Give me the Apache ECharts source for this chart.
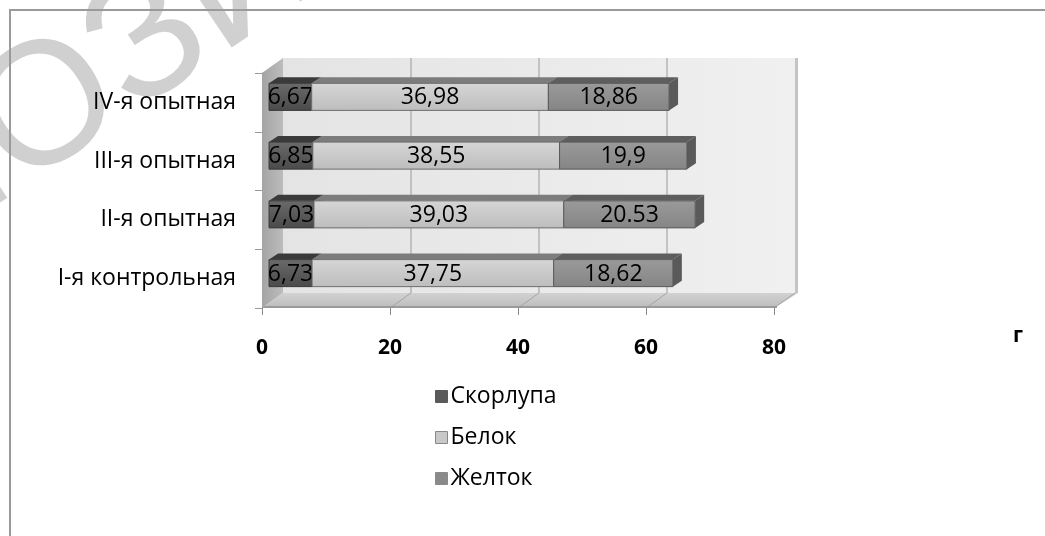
<!DOCTYPE html>
<html>
<head>
<meta charset="utf-8">
<script src="https://cdn.jsdelivr.net/npm/echarts@6/dist/echarts.min.js"></script>
<style>
html,body{margin:0;padding:0;background:#fff;}
#chart{width:1045px;height:536px;}
</style>
</head>
<body>
<div id="chart"></div>
<script>
// ---- data ----
const categories = ['I-я контрольная', 'II-я опытная', 'III-я опытная', 'IV-я опытная'];
const seriesNames = ['Скорлупа', 'Белок', 'Желток'];
const shell = [6.73, 7.03, 6.85, 6.67];
const white = [37.75, 39.03, 38.55, 36.98];
const yolk = [18.62, 20.53, 19.9, 18.86];
const shellLabels = ['6,73', '7,03', '6,85', '6,67'];
const whiteLabels = ['37,75', '39,03', '38,55', '36,98'];
const yolkLabels = ['18,62', '20.53', '19,9', '18,86'];
const xMin = 0, xMax = 80, xStep = 20;
const unitLabel = 'г';

// ---- styling ----
const FONT = '"Open Sans", "DejaVu Sans", sans-serif';
const DEPTH = [21, -15];      // full depth of the 3D box
const BAR_FRONT = [7, -5.5];  // bar front plane offset
const BAR_BACK = [16, -11.5]; // bar back plane offset
const BAR_H = 0.46;           // bar height as fraction of band
const styles = [
  {front: ['#6a6a6a', '#4a4a4a'], top: '#3a3a3a', side: '#404040', edge: '#3a3a3a'},
  {front: ['#d6d6d6', '#bdbdbd'], top: '#7c7c7c', side: '#8a8a8a', edge: '#6e6e6e'},
  {front: ['#9a9a9a', '#858585'], top: '#5e5e5e', side: '#5a5a5a', edge: '#5a5a5a'}
];
const legendColors = ['#5a5a5a', '#c8c8c8', '#8a8a8a'];

const valueSets = [shell, white, yolk];
const labelSets = [shellLabels, whiteLabels, yolkLabels];

// build [catIndex, start, end] tuples for stacking
function stackData(s) {
  return categories.map((c, i) => {
    let start = 0;
    for (let k = 0; k < s; k++) start += valueSets[k][i];
    return [i, start, start + valueSets[s][i]];
  });
}

function grad(c0, c1) {
  return new echarts.graphic.LinearGradient(0, 0, 0, 1, [{offset: 0, color: c0}, {offset: 1, color: c1}]);
}

function renderBar(s) {
  return function (params, api) {
    const cat = api.value(0), st = api.value(1), en = api.value(2);
    const p0 = api.coord([st, cat]);
    const p1 = api.coord([en, cat]);
    const band = api.size([0, 1])[1];
    const h = band * BAR_H;
    const yT = p0[1] - h / 2, yB = p0[1] + h / 2;
    const xa = p0[0], xb = p1[0];
    const f = BAR_FRONT, b = BAR_BACK;
    const sty = styles[s];
    const children = [];
    children.push({type: 'polygon', shape: {points: [
      [xa + f[0], yT + f[1]], [xb + f[0], yT + f[1]], [xb + b[0], yT + b[1]], [xa + b[0], yT + b[1]]
    ]}, style: {fill: sty.top}});
    children.push({type: 'polygon', shape: {points: [
      [xb + f[0], yT + f[1]], [xb + b[0], yT + b[1]], [xb + b[0], yB + b[1]], [xb + f[0], yB + f[1]]
    ]}, style: {fill: sty.side}});
    children.push({type: 'rect', shape: {x: xa + f[0], y: yT + f[1], width: xb - xa, height: h},
      style: {fill: grad(sty.front[0], sty.front[1]), stroke: sty.edge, lineWidth: 1}});
    children.push({type: 'text', x: (xa + xb) / 2 + f[0], y: p0[1] + f[1] + 1,
      style: {text: labelSets[s][cat], fill: '#000', font: '23px ' + FONT, align: 'center', verticalAlign: 'middle'}});
    return {type: 'group', children: children};
  };
}

function renderWalls(params, api) {
  const band = api.size([0, 1])[1];
  const x0 = api.coord([xMin, 0])[0];
  const x1 = api.coord([xMax, 0])[0];
  const yb = api.coord([xMin, 0])[1] + band / 2;
  const yt = api.coord([xMin, categories.length - 1])[1] - band / 2;
  const dx = DEPTH[0], dy = DEPTH[1];
  const ch = [];
  ch.push({type: 'rect', shape: {x: x0 + dx, y: yt + dy, width: x1 - x0, height: yb - yt},
    style: {fill: new echarts.graphic.LinearGradient(0, 0, 1, 0, [{offset: 0, color: '#e4e4e4'}, {offset: 1, color: '#f0f0f0'}])}});
  ch.push({type: 'rect', shape: {x: x1 + dx, y: yt + dy, width: 3, height: yb - yt},
    style: {fill: '#c4c4c4'}});
  for (let v = xMin + xStep; v < xMax; v += xStep) {
    const x = api.coord([v, 0])[0];
    ch.push({type: 'line', shape: {x1: x + dx, y1: yt + dy, x2: x + dx, y2: yb + dy},
      style: {stroke: '#9a9a9a', lineWidth: 1}});
  }
  ch.push({type: 'polygon', shape: {points: [[x0, yb], [x1, yb], [x1 + dx + 3, yb + dy], [x0 + dx, yb + dy]]},
    style: {fill: grad('#d2d2d2', '#bcbcbc')}});
  for (let v = xMin + xStep; v <= xMax; v += xStep) {
    const x = api.coord([v, 0])[0];
    ch.push({type: 'line', shape: {x1: x, y1: yb, x2: x + dx, y2: yb + dy},
      style: {stroke: '#a6a6a6', lineWidth: 1}});
  }
  ch.push({type: 'line', shape: {x1: x0, y1: yb - 1, x2: x1 + 3, y2: yb - 1},
    style: {stroke: '#9a9a9a', lineWidth: 2}});
  ch.push({type: 'polygon', shape: {points: [[x0, yt], [x0 + dx, yt + dy], [x0 + dx, yb + dy], [x0, yb]]},
    style: {fill: new echarts.graphic.LinearGradient(0, 0, 1, 0, [{offset: 0, color: '#a4a4a4'}, {offset: 1, color: '#bcbcbc'}])}});
  return {type: 'group', children: ch};
}

const chart = echarts.init(document.getElementById('chart'));

const series = [{
  type: 'custom', name: '_walls', renderItem: renderWalls, data: [[0, 0, 0]],
  silent: true, z: 1, encode: {x: [1, 2], y: 0}
}];
seriesNames.forEach((n, s) => {
  series.push({
    type: 'custom', name: n, renderItem: renderBar(s), data: stackData(s),
    encode: {x: [1, 2], y: 0}, z: 2 + s,
    itemStyle: {color: legendColors[s]}
  });
});

chart.setOption({
  animation: false,
  backgroundColor: '#ffffff',
  graphic: [
    {type: 'rect', shape: {x: 10, y: 10, width: 1100, height: 600}, style: {fill: null, stroke: '#9a9a9a', lineWidth: 2}, z: -10},
    {type: 'text', x: -8, y: 150, rotation: 0.59, z: -20, silent: true,
      style: {text: 'РЕП', font: '175px "Liberation Sans", sans-serif', fill: '#d0d0d0', align: 'right', verticalAlign: 'middle'}},
    {type: 'text', x: -8, y: 150, rotation: 0.59, z: -20, silent: true,
      style: {text: 'ОЗИТОРИЙ', font: '175px "Liberation Sans", sans-serif', fill: '#d0d0d0', align: 'left', verticalAlign: 'middle'}}
  ],
  grid: {left: 262, right: 271, top: 73, bottom: 228, containLabel: false},
  xAxis: {
    type: 'value', min: xMin, max: xMax, interval: xStep,
    name: unitLabel, nameLocation: 'end', nameGap: 239,
    nameTextStyle: {color: '#000', fontSize: 21, fontWeight: 'bold', fontFamily: FONT, verticalAlign: 'top', padding: [18, 0, 0, 0]},
    axisLine: {show: false},
    axisTick: {show: true, length: 7, lineStyle: {color: '#8a8a8a'}},
    splitLine: {show: false},
    axisLabel: {color: '#000', fontSize: 21, fontWeight: 'bold', fontFamily: FONT, margin: 30}
  },
  yAxis: {
    type: 'category', data: categories,
    axisLine: {show: true, lineStyle: {color: '#b0b0b0'}},
    axisTick: {show: true, length: 7, lineStyle: {color: '#9a9a9a'}},
    axisLabel: {color: '#000', fontSize: 23, fontFamily: FONT, margin: 26},
    splitLine: {show: false}
  },
  legend: {
    data: seriesNames.map((n, s) => ({name: n, icon: 'rect',
      itemStyle: {color: legendColors[s], borderColor: s === 1 ? '#888' : legendColors[s], borderWidth: 1}})),
    orient: 'vertical', left: 430, top: 380, itemWidth: 12, itemHeight: 12, itemGap: 18,
    textStyle: {color: '#000', fontSize: 23, fontFamily: FONT, padding: [0, 0, 0, -2]}
  },
  series: series
});
</script>
</body>
</html>
